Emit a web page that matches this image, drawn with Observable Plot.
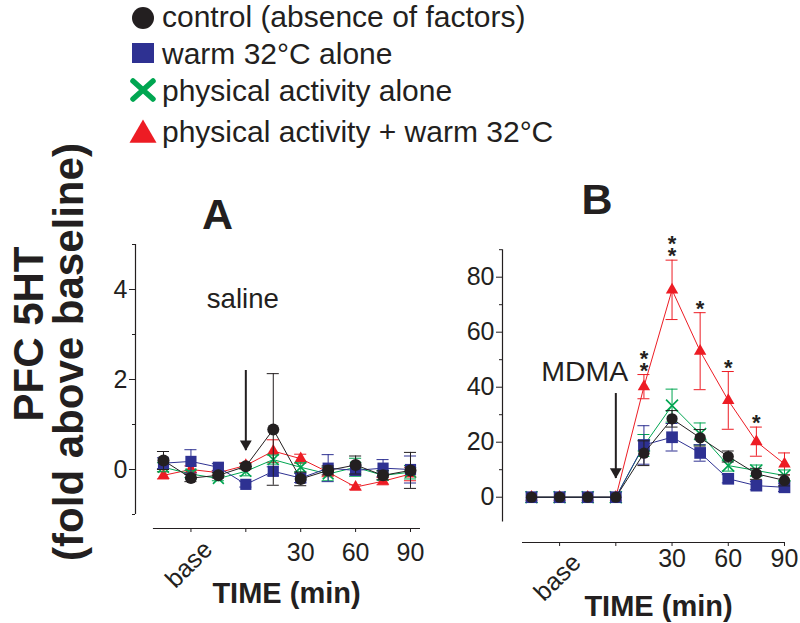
<!DOCTYPE html>
<html>
<head>
<meta charset="utf-8">
<script src="https://cdn.jsdelivr.net/npm/d3@7"></script>
<script src="https://cdn.jsdelivr.net/npm/@observablehq/plot@0.6"></script>
<style>
  html, body { margin: 0; padding: 0; background: #fff; }
  #root { position: relative; width: 800px; height: 623px; overflow: hidden; font-family: 'Liberation Sans', Arial, sans-serif; color: #231f20; }
  #root > svg, #root > .plotwrap { position: absolute; }
  .plotwrap svg { display: block; }
</style>
</head>
<body>
<div id="root"></div>
<script>
// ---------------- data ----------------
const times = [-45, -30, -15, 0, 15, 30, 45, 60, 75, 90];
const seriesNames = [
  "control (absence of factors)",
  "warm 32°C alone",
  "physical activity alone",
  "physical activity + warm 32°C"
];
const seriesColors = ["#231f20", "#2e3192", "#00a651", "#ed1c24"];
const seriesSymbols = ["circle", "square", "times", "triangle"];

// Panel A: saline
const aControl     = [0.20, -0.19, -0.13, 0.07, 0.89, -0.21, -0.02, 0.10, -0.13, -0.02];
const aControlErr  = [0.20, 0.08, 0.06, 0.06, 1.24, 0.15, 0.10, 0.20, 0.10, 0.40];
const aWarm        = [0.14, 0.18, 0.05, -0.33, -0.04, -0.19, 0.03, -0.02, 0.03, 0.00];
const aWarmErr     = [0.12, 0.26, 0.08, 0.06, 0.10, 0.10, 0.30, 0.10, 0.19, 0.30];
const aActivity    = [0.05, -0.10, -0.20, -0.04, 0.22, 0.05, -0.10, 0.05, -0.13, -0.06];
const aActivityErr = [0.10, 0.08, 0.05, 0.10, 0.10, 0.10, 0.15, 0.20, 0.10, 0.15];
const aBoth        = [-0.13, 0.00, -0.07, 0.09, 0.41, 0.24, -0.06, -0.39, -0.26, -0.10];
const aBothErr     = [0.08, 0.08, 0.05, 0.06, 0.25, 0.10, 0.10, 0.05, 0.08, 0.15];

// Panel B: MDMA
const bControl     = [0, 0, 0, 0, 16.0, 28.5, 21.6, 14.8, 8.5, 6.1];
const bControlErr  = [0, 0, 0, 0, 4.5, 3.0, 3.0, 2.0, 2.0, 2.0];
const bWarm        = [0, 0, 0, 0, 19.0, 21.8, 16.1, 6.7, 4.2, 3.6];
const bWarmErr     = [0, 0, 0, 0, 7.0, 5.0, 3.0, 1.5, 1.5, 1.5];
const bActivity    = [0, 0, 0, 0, 18.8, 33.3, 23.0, 11.5, 9.7, 7.9];
const bActivityErr = [0, 0, 0, 0, 4.0, 6.0, 4.0, 2.0, 2.0, 2.0];
const bBoth        = [0, 0, 0, 0, 40.2, 75.4, 53.1, 35.2, 20.2, 12.1];
const bBothErr     = [0, 0, 0, 0, 4.4, 10.8, 14.0, 10.5, 5.3, 4.0];

// significance stars (number of * above the "physical activity + warm" series)
const starTimes  = [15, 30, 45, 60, 75];
const starCounts = [2, 2, 1, 1, 1];

// axes
const xTicks = [-30, 0, 30, 60, 90];
const xTickLabels = ["base", "", "30", "60", "90"];
const aYTicks = [0, 2, 4];
const aYMinor = [-1, 1, 3, 5];
const bYTicks = [0, 20, 40, 60, 80];
const bYMinor = [10, 30, 50, 70, 90];

// injections
const injectionA = [{t: 0, from: 2.2, to: 0.42, label: "saline"}];
const injectionB = [{t: 0, from: 37.7, to: 6.8, label: "MDMA"}];

// ---------------- build ----------------
const ink = "#231f20";
const FONT = "'Liberation Sans', Arial, sans-serif";

function makeRows(values, errs) {
  return values.flatMap((vals, i) =>
    times.map((t, j) => ({series: seriesNames[i], idx: i, t, v: vals[j], e: errs[i][j]})));
}
const rowsA = makeRows([aControl, aWarm, aActivity, aBoth], [aControlErr, aWarmErr, aActivityErr, aBothErr]);
const rowsB = makeRows([bControl, bWarm, bActivity, bBoth], [bControlErr, bWarmErr, bActivityErr, bBothErr]);

function seriesMarks(rows, cap, radii) {
  const order = [3, 2, 1, 0];
  return order.flatMap(i => {
    const d = rows.filter(r => r.idx === i);
    const de = d.filter(r => r.e > 0);
    const c = seriesColors[i];
    const isTimes = seriesSymbols[i] === "times";
    return [
      Plot.line(d, {x: "t", y: "v", stroke: c, strokeWidth: 1}),
      Plot.ruleX(de, {x: "t", y1: r => r.v - r.e, y2: r => r.v + r.e, stroke: c, strokeWidth: 1}),
      Plot.ruleY(de, {y: r => r.v + r.e, x1: r => r.t - cap, x2: r => r.t + cap, stroke: c, strokeWidth: 1}),
      Plot.ruleY(de, {y: r => r.v - r.e, x1: r => r.t - cap, x2: r => r.t + cap, stroke: c, strokeWidth: 1}),
      isTimes
        ? Plot.dot(d, {x: "t", y: "v", symbol: "times", r: radii[i], stroke: c, strokeWidth: 1.6})
        : Plot.dot(d, {x: "t", y: "v", symbol: seriesSymbols[i], r: radii[i], fill: c, stroke: "none"})
    ];
  });
}

const tickFmt = d => { const i = xTicks.indexOf(d); const s = xTickLabels[i]; return (s === "base") ? "" : s; };
const baseLabel = [{t: xTicks[0], label: xTickLabels[0]}];

const styleCommon = {fontFamily: FONT, fontSize: "25px", color: ink, background: "transparent", overflow: "visible"};

// Panel A
const xDomA = [-60.3, 95.47], yDomA = [-1.311, 5];
const plotA = Plot.plot({
  width: 345, height: 473,
  marginLeft: 40, marginRight: 20, marginTop: 94, marginBottom: 95,
  x: {domain: xDomA, axis: null, label: null},
  y: {domain: yDomA, axis: null, label: null},
  style: styleCommon,
  marks: [
    Plot.ruleX([xDomA[0]], {y1: aYMinor[0], y2: aYMinor[aYMinor.length - 1], stroke: ink, strokeWidth: 1.2}),
    Plot.ruleY([yDomA[0]], {x1: -50.5, x2: xDomA[1], stroke: ink, strokeWidth: 1.2}),
    Plot.axisY({ticks: aYTicks, tickSize: 6, tickPadding: 2, fontSize: 25, tickFormat: d => String(d), stroke: ink, label: null}),
    Plot.axisY({ticks: aYMinor, tickSize: 3, tickFormat: () => "", stroke: ink, label: null}),
    Plot.axisX({ticks: xTicks, tickSize: 4, tickPadding: 11, fontSize: 25, tickFormat: tickFmt, stroke: ink, label: null}),
    Plot.text(baseLabel, {x: "t", text: "label", frameAnchor: "bottom", rotate: -45, textAnchor: "middle", lineAnchor: "middle", dx: -2, dy: 36, fontSize: 25, fill: ink}),
    Plot.text(["TIME (min)"], {frameAnchor: "bottom", text: d => d, lineAnchor: "bottom", dx: 8.5, dy: 74.5, fontSize: 29, fontWeight: "bold", fill: ink}),
    Plot.text(["A"], {frameAnchor: "top", text: d => d, lineAnchor: "bottom", dx: -60.5, dy: -16, fontSize: 43, fontWeight: "bold", fill: ink}),
    ...seriesMarks(rowsA, 3.3, [6, 6.3, 5, 4.6]),
    Plot.ruleX(injectionA, {x: "t", y1: "from", y2: "to", stroke: ink, strokeWidth: 2}),
    Plot.dot(injectionA, {x: "t", y: "to", symbol: "triangle", rotate: 180, r: 4.4, fill: ink, stroke: "none", dy: -6.8}),
    Plot.text(injectionA, {x: "t", y: "from", text: "label", lineAnchor: "bottom", dx: -3, dy: -63, fontSize: 27.6, fill: ink})
  ]
});

// Panel B
const xDomB = [-60.47, 90.54], yDomB = [-16.47, 90];
const starRows = starTimes.map((t, i) => {
  const j = times.indexOf(t);
  return {t, y: bBoth[j] + bBothErr[j], stars: Array(starCounts[i]).fill("*").join("\n")};
});
const plotB = Plot.plot({
  width: 360, height: 473,
  marginLeft: 62, marginRight: 15, marginTop: 99.2, marginBottom: 81,
  x: {domain: xDomB, axis: null, label: null},
  y: {domain: yDomB, axis: null, label: null},
  style: styleCommon,
  marks: [
    Plot.ruleX([xDomB[0]], {y1: -9, y2: yDomB[1], stroke: ink, strokeWidth: 1.2}),
    Plot.ruleY([yDomB[0]], {x1: -49.8, x2: xDomB[1], stroke: ink, strokeWidth: 1.2}),
    Plot.axisY({ticks: bYTicks, tickSize: 6, tickPadding: 2, fontSize: 25, tickFormat: d => String(d), stroke: ink, label: null}),
    Plot.axisY({ticks: bYMinor, tickSize: 3, tickFormat: () => "", stroke: ink, label: null}),
    Plot.axisX({ticks: xTicks, tickSize: 4, tickPadding: 3, fontSize: 25, tickFormat: tickFmt, stroke: ink, label: null}),
    Plot.text(baseLabel, {x: "t", text: "label", frameAnchor: "bottom", rotate: -45, textAnchor: "middle", lineAnchor: "middle", dx: -2, dy: 35, fontSize: 25, fill: ink}),
    Plot.text(["TIME (min)"], {frameAnchor: "bottom", text: d => d, lineAnchor: "bottom", dx: 14.5, dy: 73, fontSize: 29, fontWeight: "bold", fill: ink}),
    Plot.text(["B"], {frameAnchor: "top", text: d => d, lineAnchor: "bottom", dx: -47, dy: -36, fontSize: 43, fontWeight: "bold", fill: ink}),
    ...seriesMarks(rowsB, 3.2, [5.6, 6.6, 5.5, 4.6]),
    Plot.text(starRows, {x: "t", y: "y", text: "stars", lineAnchor: "bottom", lineHeight: 0.53, fontSize: 22, fontWeight: "bold", fill: ink, dy: 3}),
    Plot.ruleX(injectionB, {x: "t", y1: "from", y2: "to", stroke: ink, strokeWidth: 2}),
    Plot.dot(injectionB, {x: "t", y: "to", symbol: "triangle", rotate: 180, r: 4.4, fill: ink, stroke: "none", dy: -6.8}),
    Plot.text(injectionB, {x: "t", y: "from", text: "label", lineAnchor: "bottom", dx: -31, dy: -13, fontSize: 28.5, fill: ink})
  ]
});

const root = document.getElementById("root");

// y-axis title
const yTitle = d3.create("svg").attr("width", 100).attr("height", 623).style("left", "0px").style("top", "0px")
  .style("font-family", FONT).style("font-weight", "bold").style("font-size", "42px").attr("fill", ink);
yTitle.append("text").attr("transform", "translate(43,334) rotate(-90)").attr("text-anchor", "middle").text("PFC 5HT");
yTitle.append("text").attr("transform", "translate(83,352) rotate(-90)").attr("text-anchor", "middle").text("(fold above baseline)");
root.appendChild(yTitle.node());

const wrapA = document.createElement("div");
wrapA.className = "plotwrap"; wrapA.style.left = "95px"; wrapA.style.top = "150px";
wrapA.appendChild(plotA); root.appendChild(wrapA);
const wrapB = document.createElement("div");
wrapB.className = "plotwrap"; wrapB.style.left = "440px"; wrapB.style.top = "150px";
wrapB.appendChild(plotB); root.appendChild(wrapB);

// legend
const legendLayout = {markerX: 143, textX: 162, rows: [{cy: 18, base: 27}, {cy: 53, base: 64}, {cy: 90, base: 101}, {cy: 135, base: 142}]};
const legend = d3.create("svg").attr("width", 800).attr("height", 150).style("left", "0px").style("top", "0px");
seriesNames.forEach((name, i) => {
  const L = legendLayout.rows[i];
  const g = legend.append("g").attr("transform", `translate(${legendLayout.markerX},${L.cy})`);
  const c = seriesColors[i];
  if (seriesSymbols[i] === "circle") g.append("path").attr("d", d3.symbol(d3.symbolCircle, Math.PI * 11 * 11)()).attr("fill", c);
  else if (seriesSymbols[i] === "square") g.append("rect").attr("x", -11).attr("y", -10).attr("width", 22).attr("height", 20).attr("fill", c);
  else if (seriesSymbols[i] === "times") g.append("path").attr("d", "M-10,-9L10,9M-10,9L10,-9").attr("stroke", c).attr("stroke-width", 5.5).attr("stroke-linecap", "round").attr("fill", "none");
  else g.append("path").attr("d", d3.symbol(d3.symbolTriangle, 0.433 * 27 * 27)()).attr("fill", c);
  legend.append("text").attr("x", legendLayout.textX).attr("y", L.base)
    .style("font-family", FONT).style("font-size", "30px").attr("fill", ink).text(name);
});
root.appendChild(legend.node());
</script>
</body>
</html>
